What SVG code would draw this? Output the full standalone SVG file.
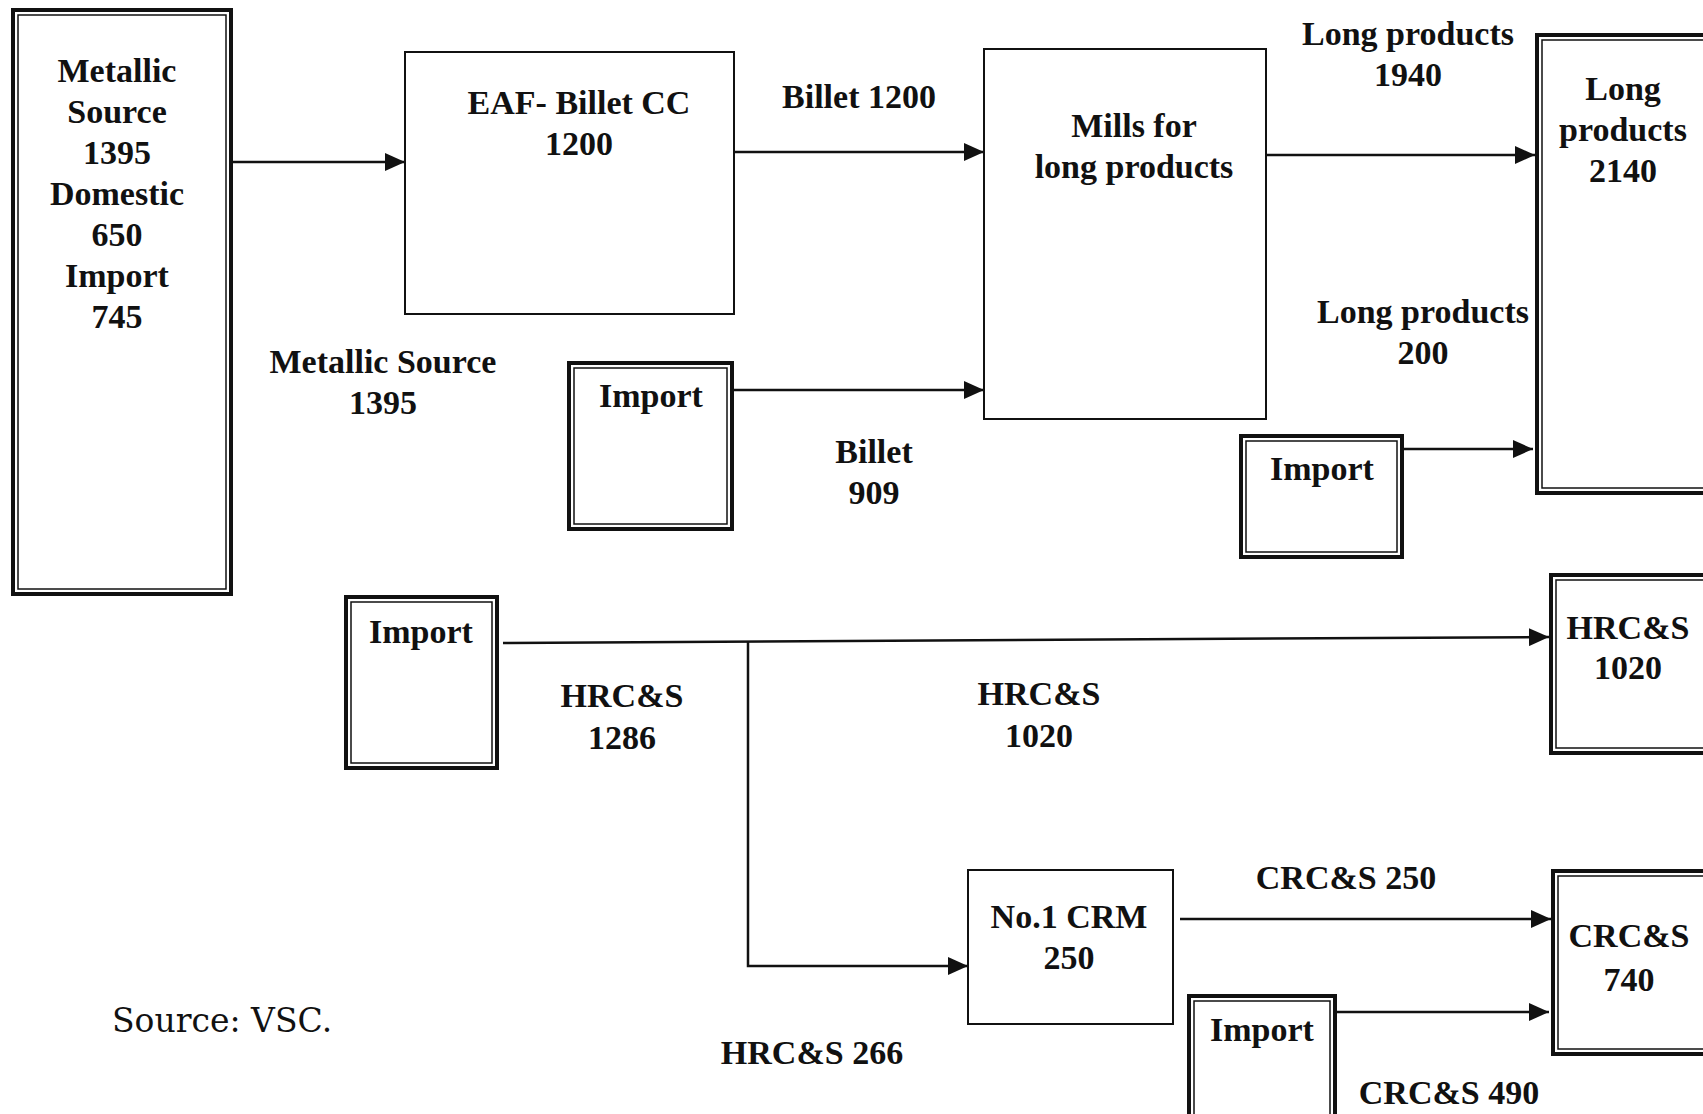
<svg xmlns="http://www.w3.org/2000/svg" width="1703" height="1114" viewBox="0 0 1703 1114">
<style>
.t{font-family:"Liberation Serif","Times New Roman",serif;font-size:34px;font-weight:bold;fill:#111;text-anchor:middle}
.src{font-family:"DejaVu Serif","Liberation Serif",serif;font-size:33px;fill:#111}
.box{fill:#fff;stroke:#111;stroke-width:2}
.outer{fill:#fff;stroke:#111;stroke-width:4}
.inner{fill:none;stroke:#111;stroke-width:1.5}
.ln{fill:none;stroke:#111;stroke-width:2.5}
</style>
<defs>
<marker id="ah" markerUnits="userSpaceOnUse" markerWidth="20" markerHeight="18" refX="20" refY="9" orient="auto">
<path d="M0,0 L20,9 L0,18 z" fill="#111"/>
</marker>
</defs>
<rect width="1703" height="1114" fill="#fff"/>

<g id="connectors">
<line class="ln" x1="233" y1="162" x2="405" y2="162" marker-end="url(#ah)"/>
<line class="ln" x1="734" y1="152" x2="984" y2="152" marker-end="url(#ah)"/>
<line class="ln" x1="734" y1="390" x2="984" y2="390" marker-end="url(#ah)"/>
<line class="ln" x1="1266" y1="155" x2="1535" y2="155" marker-end="url(#ah)"/>
<line class="ln" x1="1404" y1="449" x2="1533" y2="449" marker-end="url(#ah)"/>
<line class="ln" x1="503" y1="643" x2="1549" y2="637" marker-end="url(#ah)"/>
<path class="ln" d="M748,642 L748,966 L968,966" marker-end="url(#ah)"/>
<line class="ln" x1="1180" y1="919" x2="1551" y2="919" marker-end="url(#ah)"/>
<line class="ln" x1="1337" y1="1012" x2="1549" y2="1012" marker-end="url(#ah)"/>
</g>

<g id="metallic-source">
<rect class="outer" x="13" y="10" width="218" height="584"/>
<rect class="inner" x="18" y="15" width="208" height="574"/>
<text class="t" x="117" y="82">Metallic</text>
<text class="t" x="117" y="123">Source</text>
<text class="t" x="117" y="164">1395</text>
<text class="t" x="117" y="205">Domestic</text>
<text class="t" x="117" y="246">650</text>
<text class="t" x="117" y="287">Import</text>
<text class="t" x="117" y="328">745</text>
</g>

<g id="eaf">
<rect class="box" x="405" y="52" width="329" height="262"/>
<text class="t" x="579" y="114">EAF- Billet CC</text>
<text class="t" x="579" y="155">1200</text>
</g>

<g id="mills">
<rect class="box" x="984" y="49" width="282" height="370"/>
<text class="t" x="1134" y="137">Mills for</text>
<text class="t" x="1134" y="178">long products</text>
</g>

<g id="import-billet">
<rect class="outer" x="569" y="363" width="163" height="166"/>
<rect class="inner" x="574" y="368" width="153" height="156"/>
<text class="t" x="651" y="407">Import</text>
</g>

<g id="long-products">
<rect class="outer" x="1537" y="35" width="200" height="458"/>
<rect class="inner" x="1542" y="40" width="190" height="448"/>
<text class="t" x="1623" y="100">Long</text>
<text class="t" x="1623" y="141">products</text>
<text class="t" x="1623" y="182">2140</text>
</g>

<g id="import-long">
<rect class="outer" x="1241" y="436" width="161" height="121"/>
<rect class="inner" x="1246" y="441" width="151" height="111"/>
<text class="t" x="1322" y="480">Import</text>
</g>

<g id="import-hrc">
<rect class="outer" x="346" y="597" width="151" height="171"/>
<rect class="inner" x="351" y="602" width="141" height="161"/>
<text class="t" x="421" y="643">Import</text>
</g>

<g id="hrc-box">
<rect class="outer" x="1551" y="575" width="200" height="178"/>
<rect class="inner" x="1556" y="580" width="190" height="168"/>
<text class="t" x="1628" y="639">HRC&amp;S</text>
<text class="t" x="1628" y="679">1020</text>
</g>

<g id="crm">
<rect class="box" x="968" y="870" width="205" height="154"/>
<text class="t" x="1069" y="928">No.1 CRM</text>
<text class="t" x="1069" y="969">250</text>
</g>

<g id="crc-box">
<rect class="outer" x="1553" y="871" width="200" height="183"/>
<rect class="inner" x="1558" y="876" width="190" height="173"/>
<text class="t" x="1629" y="947">CRC&amp;S</text>
<text class="t" x="1629" y="991">740</text>
</g>

<g id="import-crc">
<rect class="outer" x="1189" y="996" width="146" height="140"/>
<rect class="inner" x="1194" y="1001" width="136" height="130"/>
<text class="t" x="1262" y="1041">Import</text>
</g>

<g id="labels">
<text class="t" x="859" y="108">Billet 1200</text>
<text class="t" x="383" y="373">Metallic Source</text>
<text class="t" x="383" y="414">1395</text>
<text class="t" x="874" y="463">Billet</text>
<text class="t" x="874" y="504">909</text>
<text class="t" x="1408" y="45">Long products</text>
<text class="t" x="1408" y="86">1940</text>
<text class="t" x="1423" y="323">Long products</text>
<text class="t" x="1423" y="364">200</text>
<text class="t" x="622" y="707">HRC&amp;S</text>
<text class="t" x="622" y="749">1286</text>
<text class="t" x="1039" y="705">HRC&amp;S</text>
<text class="t" x="1039" y="747">1020</text>
<text class="t" x="1346" y="889">CRC&amp;S 250</text>
<text class="t" x="1449" y="1104">CRC&amp;S 490</text>
<text class="t" x="812" y="1064">HRC&amp;S 266</text>
<text class="src" x="112" y="1032">Source: VSC.</text>
</g>
</svg>
